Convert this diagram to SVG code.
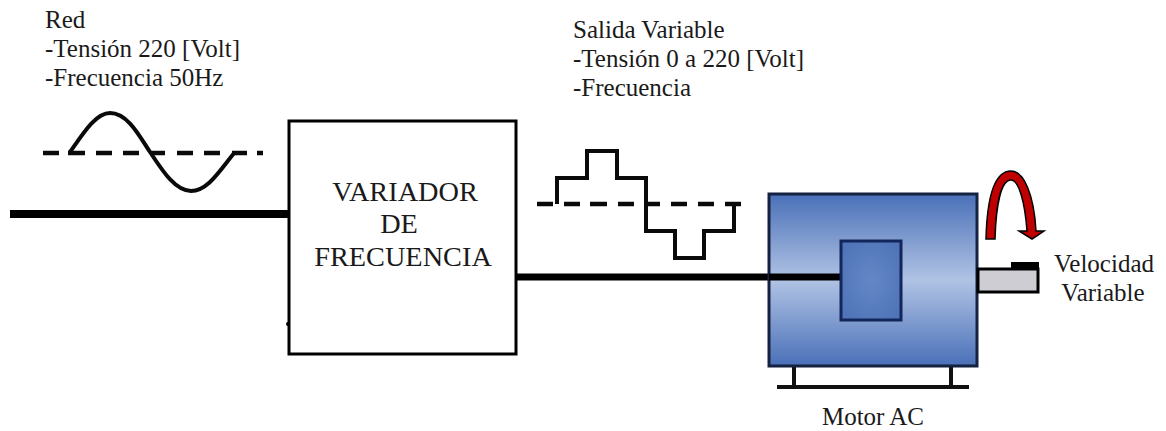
<svg xmlns="http://www.w3.org/2000/svg" width="1166" height="431" viewBox="0 0 1166 431">
<style>
text{font-family:"Liberation Serif","Times New Roman",serif;fill:#1a1a1a;font-size:25px}
.big{font-size:28.3px}
.wave{fill:none;stroke:#0a0a0a;stroke-width:4}
.dash{fill:none;stroke:#0a0a0a;stroke-width:4.5}
.wire{fill:none;stroke:#000}
.mid{text-anchor:middle}
</style>
<defs>
<linearGradient id="body" x1="0" y1="0" x2="0" y2="1">
<stop offset="0" stop-color="#4a70b8"/>
<stop offset="0.5" stop-color="#b0c3e4"/>
<stop offset="1" stop-color="#4a70b8"/>
</linearGradient>
<radialGradient id="core" cx="0.5" cy="0.5" r="0.6">
<stop offset="0" stop-color="#6487c6"/>
<stop offset="1" stop-color="#4f75b8"/>
</radialGradient>
</defs>
<rect width="1166" height="431" fill="#fff"/>

<g id="connectors">
<path class="wire" stroke-width="8" d="M10 214H289"/>
<path class="wire" stroke-width="7" d="M516 277H842"/>
</g>

<g id="red-label">
<text x="45" y="28">Red</text>
<text x="45" y="57">-Tensión 220 [Volt]</text>
<text x="45" y="86">-Frecuencia 50Hz</text>
</g>

<g id="sine-wave">
<path class="dash" d="M43 153H59M68 153H85M96 153H112M123 153H139M150 153H165M177 153H193M204 153H220M232 153H247M257 153H263"/>
<path class="wave" d="M70 152C84 132 96 113 110 113C128 113 140 137 150 152C162 170 175 191 191 191C208 191 220 170 235 152"/>
</g>

<g id="variador">
<rect x="289" y="121" width="227" height="233" fill="#fff" stroke="#000" stroke-width="3"/>
<circle cx="288" cy="324" r="2" fill="#000"/>
<text class="mid big" x="405" y="201">VARIADOR</text>
<text class="mid big" x="399" y="233">DE</text>
<text class="mid big" x="403" y="266">FRECUENCIA</text>
</g>

<g id="salida-label">
<text x="573" y="38">Salida Variable</text>
<text x="573" y="67">-Tensión 0 a 220 [Volt]</text>
<text x="573" y="96">-Frecuencia</text>
</g>

<g id="step-wave">
<path class="dash" d="M537 204H553M564 204H580M590 204H607M618 204H634M646 204H660M671 204H687M698 204H714M725 204H741"/>
<path class="wave" d="M557 204V178H587V151H617V178H646V231H675V258H704V231H734V204"/>
</g>

<g id="motor">
<path d="M794 366V387M951 366V387" stroke="#111" stroke-width="4" fill="none"/>
<path d="M777 387H969" stroke="#111" stroke-width="4" fill="none"/>
<rect x="769" y="194" width="208" height="172" fill="url(#body)" stroke="#14213f" stroke-width="3"/>
<path d="M769 277H842" stroke="#000" stroke-width="7" fill="none"/>
<rect x="841" y="241" width="60" height="79" fill="url(#core)" stroke="#12265c" stroke-width="3"/>
<rect x="978" y="269" width="60" height="23" fill="#cfcdd4" stroke="#000" stroke-width="3"/>
<rect x="1011" y="262" width="28" height="7" fill="#000"/>
<text class="mid" x="873" y="425">Motor AC</text>
</g>

<g id="rotation">
<path d="M986 239C987 200 993 171 1011 171C1024 171 1034 195 1036 231H1044L1032 239L1019 231H1027C1025 203 1019 180 1011 180C1001 180 996 205 995 239Z" fill="#c00000" stroke="#000" stroke-width="1.5"/>
</g>

<g id="velocidad-label">
<text class="mid" x="1104" y="272">Velocidad</text>
<text class="mid" x="1103" y="301">Variable</text>
</g>
</svg>
